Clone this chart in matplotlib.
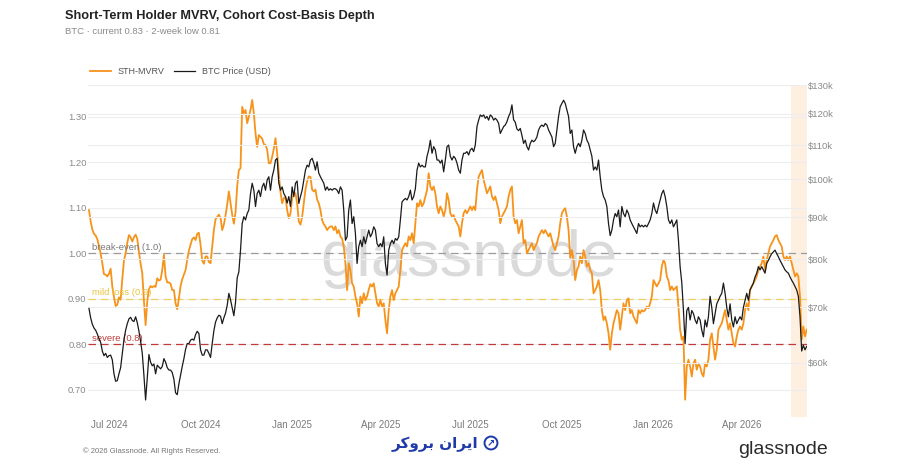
import pandas as pd
import matplotlib
matplotlib.use("Agg")
import matplotlib.pyplot as plt
from matplotlib.ticker import FixedLocator, NullLocator
from matplotlib.lines import Line2D

# --- data ---
sth_mvrv = [
    1.095, 1.070, 1.052, 1.043, 1.039, 1.031, 1.016, 0.999, 0.978, 0.954,
    0.953, 0.949, 0.955, 0.966, 0.927, 0.904, 0.884, 0.887, 0.903, 0.898,
    0.943, 0.984, 1.000, 1.023, 1.040, 1.035, 1.026, 1.035, 1.041, 1.032,
    1.003, 0.977, 0.956, 0.895, 0.842, 0.895, 0.921, 0.928, 0.925, 0.928,
    0.926, 0.945, 0.940, 0.942, 0.963, 0.997, 0.949, 0.936, 0.936, 0.933,
    0.919, 0.919, 0.890, 0.877, 0.901, 0.928, 0.943, 0.953, 0.963, 0.986,
    1.006, 1.019, 1.031, 1.035, 1.029, 1.043, 1.045, 1.019, 0.984, 0.977,
    0.993, 0.993, 0.981, 0.978, 1.015, 1.051, 1.075, 1.080, 1.085, 1.078,
    1.051, 1.063, 1.083, 1.107, 1.136, 1.110, 1.085,
    1.065, 1.090, 1.147, 1.183, 1.187, 1.322, 1.308, 1.315, 1.286, 1.300,
    1.315, 1.337, 1.308, 1.264, 1.234, 1.260, 1.256, 1.252, 1.240, 1.238,
    1.228, 1.198, 1.198, 1.212, 1.230, 1.253, 1.220, 1.176, 1.135, 1.110,
    1.121, 1.124, 1.095, 1.077, 1.088, 1.121, 1.132, 1.132, 1.110, 1.070,
    1.063, 1.080, 1.110, 1.140, 1.158, 1.169, 1.168, 1.140, 1.136, 1.140,
    1.118, 1.110, 1.095, 1.073, 1.064, 1.059, 1.051, 1.056, 1.059, 1.059,
    1.051, 1.059, 1.044, 1.051, 1.037, 1.032, 1.015, 0.978, 0.919, 0.978,
    0.963, 0.934, 0.927, 0.905, 0.890, 0.861, 0.905, 0.890, 0.912, 0.897,
    0.905, 0.920, 0.932, 0.927, 0.934, 0.912, 0.890,
    0.883, 0.897, 0.883, 0.890, 0.853, 0.824, 0.875, 0.905, 0.919, 0.897,
    0.912, 0.919, 0.927, 0.963, 1.007, 1.015, 1.022, 1.015, 1.037, 1.029,
    1.044, 1.022, 1.066, 1.110, 1.103, 1.117, 1.103, 1.110, 1.125, 1.139,
    1.176, 1.147, 1.139, 1.147, 1.132, 1.103, 1.088, 1.103, 1.095, 1.081,
    1.095, 1.132, 1.117, 1.088, 1.081, 1.084, 1.073, 1.066, 1.059, 1.037,
    1.066, 1.088, 1.095, 1.088, 1.095, 1.103, 1.095, 1.103, 1.095, 1.139,
    1.168, 1.176, 1.183, 1.161, 1.147, 1.132, 1.139, 1.147, 1.125, 1.117,
    1.125, 1.110, 1.095, 1.066, 1.081, 1.088, 1.095, 1.103, 1.125, 1.139,
    1.147, 1.081, 1.066, 1.073, 1.044, 1.059, 1.073,
    1.022, 1.029, 1.000, 1.007, 1.015, 1.022, 1.007, 1.015, 1.022, 1.037,
    1.044, 1.051, 1.044, 1.051, 1.044, 1.037, 1.044, 1.029, 1.015, 1.007,
    1.022, 1.037, 1.066, 1.088, 1.095, 1.099, 1.081, 1.051, 0.990, 1.007,
    0.985, 0.941, 0.963, 0.971, 0.993, 0.978, 1.007, 0.993, 0.971, 0.978,
    0.963, 0.956, 0.912, 0.919, 0.927, 0.941, 0.919, 0.875, 0.853, 0.861,
    0.846, 0.824, 0.788, 0.824, 0.846, 0.861, 0.875, 0.868, 0.832, 0.861,
    0.890, 0.875, 0.897, 0.901, 0.868, 0.875, 0.861, 0.853, 0.846, 0.875,
    0.868, 0.875, 0.872, 0.875, 0.883, 0.879, 0.890, 0.905, 0.941, 0.934,
    0.927, 0.934, 0.941, 0.971, 0.985, 0.978, 0.949,
    0.940, 0.919, 0.927, 0.919, 0.923, 0.927, 0.883, 0.832, 0.810, 0.817,
    0.678, 0.751, 0.766, 0.751, 0.729, 0.758, 0.766, 0.744, 0.758, 0.751,
    0.736, 0.729, 0.758, 0.751, 0.766, 0.810, 0.824, 0.795, 0.766, 0.788,
    0.832, 0.839, 0.846, 0.861, 0.875, 0.853, 0.832, 0.846, 0.824, 0.802,
    0.795, 0.817, 0.832, 0.839, 0.832, 0.846, 0.875, 0.890, 0.875, 0.919,
    0.927, 0.934, 0.941, 0.949, 0.963, 0.971, 0.978, 0.993, 0.963, 0.985,
    1.000, 1.015, 1.022, 1.029, 1.037, 1.040, 1.029, 1.022, 1.015, 0.993,
    0.985, 0.993, 0.985, 0.993, 0.978, 0.963, 0.949, 0.956, 0.949, 0.905,
    0.810, 0.839, 0.817, 0.832,
]

# BTC price in thousands of USD
btc_price_k = [
    69.8, 68.0, 66.8, 66.1, 65.7, 65.0, 64.2, 63.5, 62.0, 61.2,
    61.6, 60.9, 61.2, 61.3, 60.5, 58.2, 57.0, 57.1, 58.2, 59.2,
    61.6, 64.0, 65.7, 66.9, 67.8, 68.1, 67.5, 67.3, 68.2, 67.1,
    65.5, 63.7, 61.6, 57.9, 54.1, 57.5, 61.4, 60.1, 59.5, 59.8,
    58.2, 59.6, 59.3, 59.0, 59.4, 60.7, 60.1, 59.2, 58.8, 58.8,
    58.4, 57.3, 55.2, 54.9, 56.6, 58.0, 59.4, 60.7, 62.3, 63.3,
    63.3, 63.9, 64.1, 63.9, 64.9, 65.5, 65.1, 62.2, 61.3, 61.3,
    62.2, 62.2, 61.6, 60.9, 63.3, 65.6, 67.2, 68.0, 68.5, 68.3,
    66.9, 68.0, 68.9, 70.4, 72.8, 71.5, 69.9,
    68.4, 71.0, 76.0, 77.3, 82.1, 88.4, 90.1, 89.3, 90.9, 91.8,
    96.1, 98.9, 97.0, 92.7, 96.1, 97.0, 95.3, 97.9, 98.9, 97.0,
    99.8, 100.7, 97.0, 100.7, 102.6, 105.5, 106.0, 98.9, 97.0, 97.9,
    96.1, 95.3, 93.6, 95.3, 92.7, 97.9, 95.3, 98.9, 99.5, 93.5,
    95.3, 97.0, 99.8, 102.6, 104.0, 103.5, 105.5, 106.0, 104.6, 102.6,
    105.0, 101.7, 100.7, 99.8, 98.9, 97.0, 97.9, 97.0, 97.4, 97.0,
    97.4, 97.4, 97.0, 96.1, 97.9, 97.0, 91.8, 84.4, 85.2, 91.8,
    94.4, 88.4, 90.1, 86.0, 79.1, 82.9, 84.4, 82.9, 85.2, 83.6,
    85.2, 86.8, 85.2, 86.0, 87.6, 86.8, 83.6,
    82.9, 83.6, 82.9, 85.2, 79.1, 76.6, 82.1, 83.6, 84.4, 83.6,
    84.8, 84.4, 85.2, 89.3, 93.9, 94.4, 94.8, 94.4, 95.3, 97.0,
    94.4, 95.3, 97.4, 102.6, 104.6, 103.5, 104.0, 103.5, 103.5, 106.6,
    108.5, 111.5, 107.5, 109.5, 108.5, 105.5, 105.5, 104.6, 105.5, 102.1,
    105.5, 109.5, 110.0, 106.6, 105.5, 106.6, 106.0, 104.6, 102.6, 101.7,
    105.5, 107.5, 107.5, 108.0, 107.0, 108.5, 109.0, 108.0, 110.0, 115.8,
    117.9, 119.6, 119.1, 119.6, 118.5, 119.1, 117.9, 119.6, 119.1, 117.9,
    118.5, 117.9, 116.8, 113.6, 114.7, 115.8, 116.3, 117.4, 119.1, 120.3,
    123.0, 118.0, 117.2, 115.0, 114.5, 115.2, 113.0,
    110.5, 111.5, 109.5, 108.5, 110.5, 111.5, 111.0, 111.5, 112.5, 114.7,
    115.8, 116.3, 115.8, 116.8, 116.3, 114.7, 113.6, 112.5, 109.5, 110.5,
    114.7, 119.1, 122.4, 123.5, 124.6, 123.5, 121.3, 119.1, 113.6, 114.7,
    109.5, 107.5, 109.5, 110.5, 109.5, 111.5, 114.7, 113.6, 111.5, 110.5,
    108.5, 106.6, 102.6, 103.5, 102.6, 105.5, 100.7, 97.0, 95.3, 94.4,
    92.7, 88.4, 85.5, 86.8, 89.3, 90.9, 90.1, 91.8, 87.6, 92.7,
    90.9, 90.1, 91.8, 90.9, 89.3, 88.4, 87.6, 86.8, 86.0, 88.4,
    87.6, 88.0, 87.6, 88.0, 87.6, 88.4, 89.3, 90.9, 93.6, 91.8,
    90.9, 92.7, 94.4, 96.1, 97.0, 95.3, 92.7,
    89.3, 88.4, 89.3, 87.6, 88.4, 89.3, 84.4, 78.4, 75.0, 69.4,
    63.3, 69.4, 70.0, 67.6, 69.4, 68.8, 67.6, 66.9, 68.2, 67.6,
    65.7, 64.5, 67.6, 66.3, 68.2, 72.2, 70.0, 66.9, 68.8, 70.7,
    71.4, 72.2, 72.8, 74.9, 72.8, 70.0, 68.2, 70.7, 67.6, 66.3,
    68.2, 66.9, 67.6, 68.2, 67.6, 70.0, 71.4, 72.8, 71.4, 73.5,
    74.2, 74.9, 76.2, 77.0, 78.4, 77.7, 78.4, 77.7, 77.0, 79.1,
    79.8, 80.6, 81.3, 81.7, 82.1, 81.3, 80.6, 79.8, 79.1, 78.4,
    77.7, 77.3, 77.0, 76.2, 75.5, 74.9, 74.2, 73.5, 72.2, 68.2,
    62.0, 63.0, 62.2, 62.8,
]

dates = pd.date_range("2024-06-10", "2026-06-05 16:00", periods=len(sth_mvrv))

mvrv_ticks = [0.70, 0.80, 0.90, 1.00, 1.10, 1.20, 1.30]
price_ticks_k = [60, 70, 80, 90, 100, 110, 120, 130]
month_ticks = pd.to_datetime(["2024-07-01", "2024-10-01", "2025-01-01", "2025-04-01",
                              "2025-07-01", "2025-10-01", "2026-01-01", "2026-04-01"])
month_labels = ["Jul 2024", "Oct 2024", "Jan 2025", "Apr 2025",
                "Jul 2025", "Oct 2025", "Jan 2026", "Apr 2026"]
levels = [1.0, 0.9, 0.8]
level_labels = ["break-even (1.0)", "mild loss (0.9)", "severe (0.8)"]
level_colors = ["#9b9b9b", "#f0cf62", "#c23b3b"]
level_text_colors = ["#7a7a7a", "#e9c441", "#c23b3b"]
window_start, window_end = pd.Timestamp("2026-05-21"), pd.Timestamp("2026-06-06")

plt.rcParams['font.family'] = ['Liberation Sans', 'DejaVu Sans']

ORANGE = "#f7931a"

fig = plt.figure(figsize=(9, 4.71), dpi=100)
ax = fig.add_axes([88 / 900, 1 - 417 / 471, (807 - 88) / 900, (417 - 85) / 471])
ax2 = ax.twinx()

# last two weeks highlight
ax.axvspan(window_start, window_end, color="#fdf0e1", zorder=0, lw=0)

ax.plot(dates, sth_mvrv, color=ORANGE, lw=1.3, zorder=3)
ax2.plot(dates, btc_price_k, color="#1a1a1a", lw=0.9, zorder=3)

for lvl, lab, c, tc in zip(levels, level_labels, level_colors, level_text_colors):
    ax.axhline(lvl, color=c, lw=0.9, ls=(0, (6, 4)), zorder=2)
    ax.text(0.005, lvl + 0.003, lab, transform=ax.get_yaxis_transform(),
            fontsize=6.8, color=tc, va="bottom", ha="left", zorder=4)

# watermark
ax.text(0.53, 0.475, "glassnode", transform=ax.transAxes, fontsize=47,
        color="#dadada", ha="center", va="center", zorder=1)

ax.set_xlim(pd.Timestamp("2024-06-09"), pd.Timestamp("2026-06-06"))
ax.set_ylim(0.640, 1.370)
ax2.set_yscale("log")
ax2.set_ylim(51.6, 130)

ax.yaxis.set_major_locator(FixedLocator(mvrv_ticks))
ax.set_yticklabels([f"{t:.2f}" for t in mvrv_ticks])
ax2.yaxis.set_major_locator(FixedLocator(price_ticks_k))
ax2.yaxis.set_minor_locator(NullLocator())
ax2.set_yticklabels([f"${t}k" for t in price_ticks_k])
ax.set_xticks(month_ticks)
ax.set_xticklabels(month_labels)

for a in (ax, ax2):
    for s in a.spines.values():
        s.set_visible(False)
    a.grid(axis="y", color="#ededed", lw=0.8, zorder=0)
    a.set_axisbelow(True)
ax.tick_params(axis="y", length=0, labelsize=6.8, labelcolor="#8a8a8a", pad=1)
ax2.tick_params(axis="y", length=0, labelsize=6.8, labelcolor="#8a8a8a", pad=1)
ax.tick_params(axis="x", length=0, labelsize=7, labelcolor="#7a7a7a", pad=2)

handles = [Line2D([], [], color=ORANGE, lw=1.3), Line2D([], [], color="#1a1a1a", lw=0.9)]
fig.legend(handles, ["STH-MVRV", "BTC Price (USD)"], loc="center left",
           bbox_to_anchor=(90 / 900, 1 - 72 / 471), ncol=2, frameon=False,
           fontsize=6.5, handlelength=2.3, handletextpad=0.8, columnspacing=1.0,
           borderpad=0, borderaxespad=0, labelcolor="#555555")

fig.text(65 / 900, 1 - 16 / 471, "Short-Term Holder MVRV, Cohort Cost-Basis Depth",
         fontsize=9.2, weight="bold", color="#222222", va="center")
fig.text(65 / 900, 1 - 32 / 471, "BTC · current 0.83 · 2-week low 0.81",
         fontsize=6.8, color="#8a8a8a", va="center")

fig.text(83 / 900, 1 - 451 / 471, "© 2026 Glassnode. All Rights Reserved.",
         fontsize=5.5, color="#777777", va="center")
fig.text(828 / 900, 1 - 449 / 471, "glassnode", fontsize=14, color="#2b2b2b",
         ha="right", va="center")
# Persian broker mark, pre-shaped presentation forms in visual order
fig.text(435 / 900, 1 - 444 / 471,
         "\uFEAE\uFB90\uFEED\uFEAE\uFE91 \uFEE5\uFE8D\uFEAE\uFBFE\uFE8D",
         fontsize=11, color="#1f3aa8", ha="center", va="center",
         family=["DejaVu Sans"], weight="bold")
fig.text(491 / 900, 1 - 443 / 471, "\u2197", fontsize=7, color="#1f3aa8",
         ha="center", va="center", family=["DejaVu Sans"], weight="bold",
         bbox=dict(boxstyle="circle,pad=0.15", fc="none", ec="#1f3aa8", lw=1.4))

fig.savefig("out.png", dpi=100)
